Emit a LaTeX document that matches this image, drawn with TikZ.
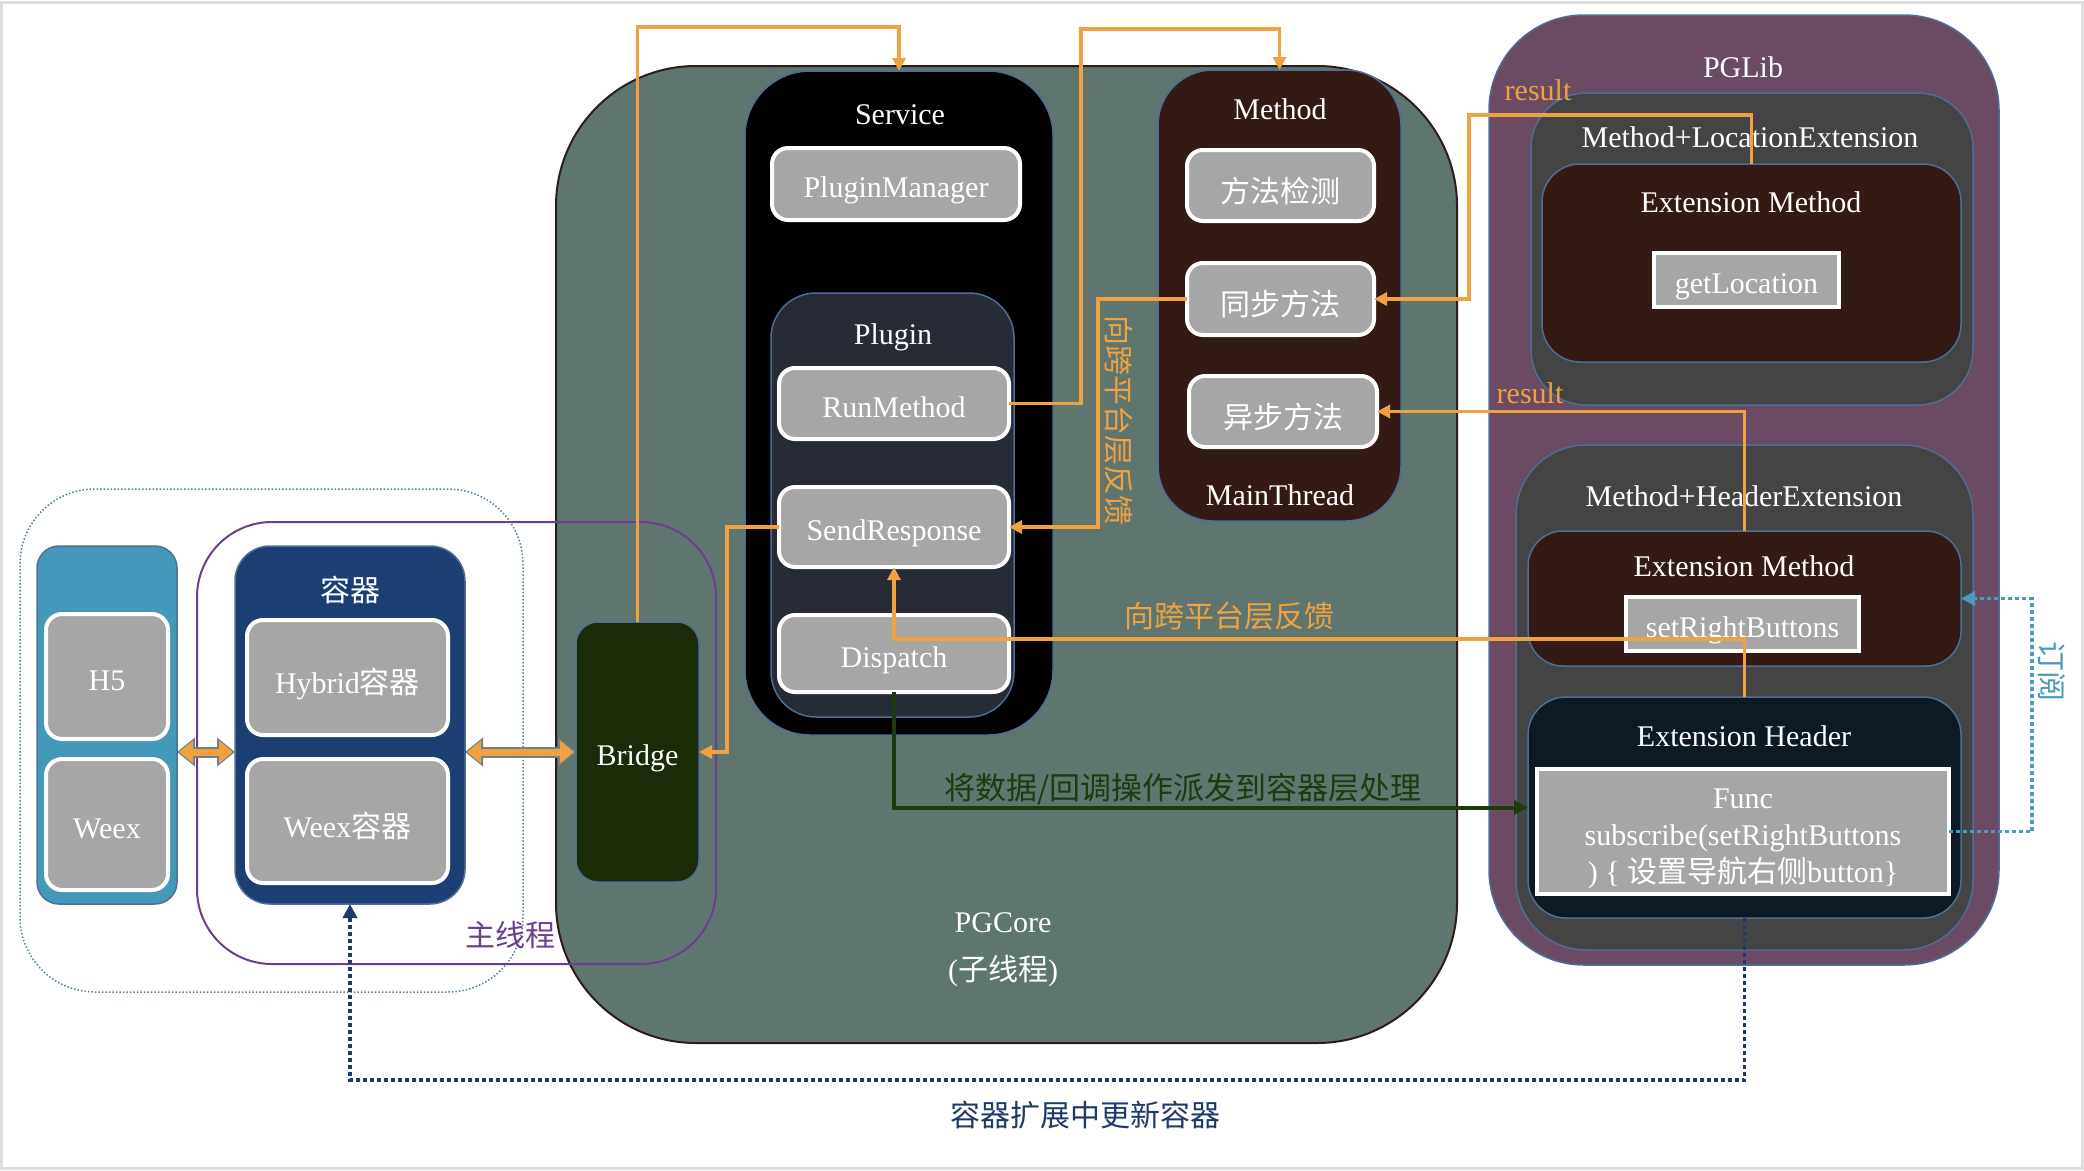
\documentclass[tikz,border=0pt]{standalone}
\usepackage{fontspec}
\setmainfont{Liberation Serif}
\newfontfamily\cjk{Noto Sans CJK SC}
\usetikzlibrary{arrows.meta,calc}
\definecolor{coreC}{HTML}{5F756F}
\definecolor{coreEdge}{HTML}{2E1C16}
\definecolor{edgeC}{HTML}{4E6E96}
\definecolor{grayC}{HTML}{A6A6A6}
\definecolor{plugC}{HTML}{262B35}
\definecolor{brownC}{HTML}{341A14}
\definecolor{bridgeC}{HTML}{1B2B08}
\definecolor{tealC}{HTML}{4499BB}
\definecolor{navyC}{HTML}{1B3F73}
\definecolor{libC}{HTML}{6B4A63}
\definecolor{extC}{HTML}{444444}
\definecolor{headC}{HTML}{0D1A24}
\definecolor{orangeC}{HTML}{EFA23F}
\definecolor{greenC}{HTML}{1E3A0E}
\definecolor{purpleC}{HTML}{6A3F8F}
\definecolor{dnavyC}{HTML}{1F3A6A}
\definecolor{subC}{HTML}{4A9ABB}
\definecolor{dotC}{HTML}{4F84A0}
\definecolor{frameC}{HTML}{DDDDDD}
\definecolor{dblC}{HTML}{6F8090}
\newcommand\mkbox[6]{\node[#2, minimum width={(#5)-(#3)}, minimum height={(#6)-(#4)}] (#1) at ({((#3)+(#5))/2},{((#4)+(#6))/2}) {};}
\begin{document}
\begin{tikzpicture}[x=1pt,y=-1pt,
  every node/.style={inner sep=0pt,outer sep=0pt},
  font=\fontsize{30}{37}\selectfont,
  cont/.style={draw=edgeC,line width=1.5pt},
  grnd/.style={fill=grayC,draw=white,line width=4pt,rounded corners=16pt},
  gsq/.style={fill=grayC,draw=white,line width=4pt},
  lbl/.style={text=white,text height=21pt,text depth=0pt},
  glbl/.style={lbl,yshift=-3pt},
  zh/.style={font=\fontsize{30}{37}\selectfont\cjk},
  gzh/.style={lbl,zh,yshift=-6pt},
  oarrow/.style={draw=orangeC,line width=3.5pt,-{Triangle[length=13pt,width=13pt]}},
  garrow/.style={draw=greenC,line width=4pt,-{Triangle[length=14pt,width=14pt]}},
  narrow/.style={draw=dnavyC,line width=3.5pt,dash pattern=on 4pt off 3pt,-{Triangle[length=14pt,width=14pt]}},
  tarrow/.style={draw=subC,line width=3.5pt,dash pattern=on 4pt off 3pt,-{Triangle[length=14pt,width=14pt]}},
  dblout/.style={draw=dblC,line width=11pt,{Triangle[length=18pt,width=28pt]}-{Triangle[length=18pt,width=28pt]}},
  dblin/.style={draw=orangeC,line width=7pt,shorten <=2pt,shorten >=2pt,{Triangle[length=14pt,width=22pt]}-{Triangle[length=14pt,width=22pt]}},
]
\useasboundingbox (0,0) rectangle (2084,1170);
\fill[white] (0,0) rectangle (2084,1170);
\draw[frameC,line width=3pt] (1.5,2.5) rectangle (2082.5,1168.5);

% outer dotted group and PGCore
\mkbox{outer}{draw=dotC,line width=1.5pt,dotted,rounded corners=75pt}{20}{489}{523}{992}
\mkbox{core}{fill=coreC,draw=coreEdge,line width=2pt,rounded corners=140pt}{556}{66}{1457}{1043}
\mkbox{mainth}{draw=purpleC,line width=2pt,rounded corners=75pt}{197}{522}{716}{964}

% Service
\mkbox{svc}{cont,fill=black,rounded corners=65pt}{745}{71}{1053}{735}
\mkbox{pm}{grnd}{772}{148}{1020}{220}
\mkbox{plg}{cont,fill=plugC,rounded corners=45pt}{771}{293}{1014}{717}
\mkbox{rm}{grnd}{779}{368}{1009}{439}
\mkbox{sr}{grnd}{779}{487}{1009}{567}
\mkbox{dp}{grnd}{779}{615}{1009}{692}

% Method
\mkbox{mth}{cont,fill=brownC,rounded corners=55pt}{1158}{70}{1401}{521}
\mkbox{m1}{grnd}{1187}{150}{1374}{221}
\mkbox{m2}{grnd}{1187}{263}{1374}{335}
\mkbox{m3}{grnd}{1189}{376}{1377}{447}

% Bridge and containers
\mkbox{br}{cont,fill=bridgeC,rounded corners=22pt}{576}{622}{699}{882}
\mkbox{hcol}{cont,fill=tealC,rounded corners=22pt}{37}{546}{177}{904}
\mkbox{h5}{grnd}{46}{614}{168}{739}
\mkbox{wx}{grnd}{46}{759}{168}{890}
\mkbox{rq}{cont,fill=navyC,rounded corners=35pt}{235}{546}{465}{904}
\mkbox{hy}{grnd}{247}{620}{448}{735}
\mkbox{wxr}{grnd}{247}{759}{448}{883}

% PGLib
\mkbox{lib}{cont,fill=libC,rounded corners=95pt}{1489}{15}{1999}{965}
\mkbox{mle}{cont,fill=extC,rounded corners=55pt}{1531}{93}{1973}{405}
\mkbox{em1}{cont,fill=brownC,rounded corners=38pt}{1542}{164}{1961}{362}
\mkbox{gl}{gsq}{1654}{253}{1839}{307}
\mkbox{mhe}{cont,fill=extC,rounded corners=70pt}{1516}{445}{1973}{950}
\mkbox{em2}{cont,fill=brownC,rounded corners=35pt}{1528}{531}{1961}{666}
\mkbox{srb}{gsq}{1626}{597}{1859}{651}
\mkbox{eh}{cont,fill=headC,rounded corners=38pt}{1528}{697}{1961}{918}
\mkbox{fn}{gsq}{1537}{769}{1949}{894}

% box labels
\node[lbl] (tsvc) at (900,114) {Service};
\node[glbl] (tpm) at (pm.center) {PluginManager};
\node[lbl] (tplg) at (893,334) {Plugin};
\node[glbl] (trm) at (rm.center) {RunMethod};
\node[glbl] (tsr) at (sr.center) {SendResponse};
\node[glbl] (tdp) at (dp.center) {Dispatch};
\node[lbl] (tmth) at (1280,109) {Method};
\node[gzh] (tm1) at (m1.center) {方法检测};
\node[gzh] (tm2) at (m2.center) {同步方法};
\node[gzh] (tm3) at (m3.center) {异步方法};
\node[lbl] (tmt) at (1280,495) {MainThread};
\node[glbl] (tbr) at (br.center) {Bridge};
\node[glbl] (th5) at (h5.center) {H5};
\node[glbl] (twx) at (wx.center) {Weex};
\node[lbl,zh,yshift=-2pt] (trq) at (350,589) {容器};
\node[lbl,yshift=-5pt] (thy) at (hy.center) {Hybrid{\cjk 容器}};
\node[lbl,yshift=-6pt] (twxr) at (wxr.center) {Weex{\cjk 容器}};
\node[lbl] (tlib) at (1743,67) {PGLib};
\node[lbl] (tmle) at (1750,137) {Method+LocationExtension};
\node[lbl] (tem1) at (1751,202) {Extension Method};
\node[glbl] (tgl) at (gl.center) {getLocation};
\node[lbl] (tmhe) at (1744,496) {Method+HeaderExtension};
\node[lbl] (tem2) at (1744,566) {Extension Method};
\node[glbl] (tsrb) at (srb.center) {setRightButtons};
\node[lbl] (teh) at (1744,736) {Extension Header};
\node[text=white,align=center] (tfn) at ($(fn.center)+(0,7)$) {Func\\subscribe(setRightButtons\\) \{ {\cjk 设置导航右侧}button\}};
\node[lbl] (tcore) at (1003,922) {PGCore};
\node[lbl] (tcore2) at (1003,970) {({\cjk 子线程})};

% connectors
\draw[oarrow] (br.north) |- ($(svc.north)+(0,-44)$) -- (svc.north);
\draw[oarrow] (rm.east) -- ++(72,0) |- ($(mth.north)+(0,-41)$) -- (mth.north);
\draw[oarrow] (m2.west) -- ++(-89,0) |- (sr.east);
\draw[oarrow] (em1.north) -- ++(0,-49) -| ($(m2.east)+(95,0)$) -- (m2.east);
\draw[oarrow] (em2.north) |- (m3.east);
\draw[oarrow] (eh.north) -- ++(0,-58) -| (sr.south);
\draw[oarrow] (sr.west) -- ++(-52,0) |- (br.east);
\draw[garrow] (dp.south) |- (eh.west);
\draw[narrow] (eh.south) -- ++(0,162) -| (rq.south);
\draw[tarrow] (fn.east) -- ++(83,0) |- (em2.east);
\draw[dblout] (hcol.east |- br.east) -- (rq.west |- br.east);
\draw[dblin] (hcol.east |- br.east) -- (rq.west |- br.east);
\draw[dblout] (rq.east |- br.east) -- (br.west);
\draw[dblin] (rq.east |- br.east) -- (br.west);

% connector labels
\node[text=orangeC] (res1) at (1538,90) {result};
\node[text=orangeC] (res2) at (1530,393) {result};
\node[zh,text=orangeC,rotate=-90] (fb1) at (1119,420) {向跨平台层反馈};
\node[zh,text=orangeC] (fb2) at (1229,616) {向跨平台层反馈};
\node[font=\fontsize{31}{37}\selectfont\cjk,text=greenC] (disp) at (1183,789) {将数据/回调操作派发到容器层处理};
\node[zh,text=dnavyC] (upd) at (1085,1115) {容器扩展中更新容器};
\node[zh,text=purpleC] (mt) at (510,935) {主线程};
\node[zh,text=subC,rotate=-90] (sub) at (2052,671) {订阅};
\end{tikzpicture}
\end{document}
